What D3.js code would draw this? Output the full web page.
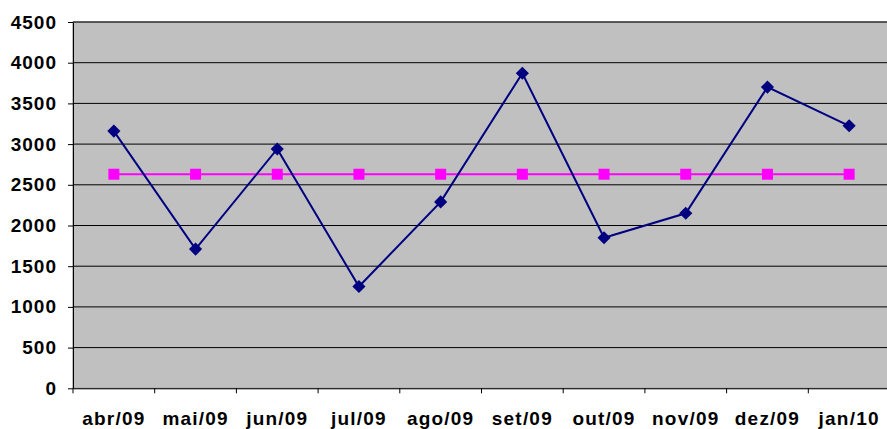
<!DOCTYPE html>
<html><head><meta charset="utf-8">
<script src="https://cdn.jsdelivr.net/npm/d3@7"></script>
<style>body{margin:0;background:#fff}svg{display:block}</style>
</head><body><svg id="c" width="887" height="429"></svg>
<script>
const categories = ["abr/09","mai/09","jun/09","jul/09","ago/09","set/09","out/09","nov/09","dez/09","jan/10"];
const seriesValues = [3160,1710,2940,1250,2290,3870,1850,2150,3700,3225];
const averageValues = [2630,2630,2630,2630,2630,2630,2630,2630,2630,2630];
const yTicks = [0,500,1000,1500,2000,2500,3000,3500,4000,4500];

const svg = d3.select("#c");
const L = 73, R = 890, T = 22, B = 388.3;
const x = d3.scaleBand().domain(categories).range([L, R]).padding(0);
const y = d3.scaleLinear().domain([0, 4500]).range([B, T]);
const font = "'Liberation Sans', Arial, sans-serif";

svg.append("rect").attr("x", L).attr("y", T).attr("width", R - L).attr("height", B - T)
  .attr("fill", "#C0C0C0").attr("stroke", "#808080").attr("stroke-width", 1);

svg.append("g").selectAll("line").data(yTicks.filter(d => d > 0)).join("line")
  .attr("x1", L).attr("x2", R).attr("y1", d => y(d)).attr("y2", d => y(d))
  .attr("stroke", "#000").attr("stroke-width", 1);

// Y axis
const yAxis = svg.append("g").attr("transform", `translate(${L},0)`)
  .call(d3.axisLeft(y).tickValues(yTicks).tickFormat(d3.format("d")).tickSize(5).tickSizeOuter(0).tickPadding(11));
yAxis.select(".domain").attr("stroke", "#000");
yAxis.selectAll(".tick line").attr("stroke", "#000");
yAxis.selectAll("text").attr("font-family", font).attr("font-weight", "bold")
  .attr("font-size", "19px").attr("letter-spacing", "1px").attr("fill", "#000");

// X axis
const xAxis = svg.append("g").attr("transform", `translate(0,${B})`)
  .call(d3.axisBottom(x).tickSize(0).tickPadding(23));
xAxis.select(".domain").attr("stroke", "#000");
xAxis.selectAll("text").attr("font-family", font).attr("font-weight", "bold")
  .attr("font-size", "19px").attr("letter-spacing", "1.2px").attr("fill", "#000");
svg.append("g").selectAll("line").data(categories).join("line")
  .attr("x1", d => x(d)).attr("x2", d => x(d)).attr("y1", B).attr("y2", B + 5)
  .attr("stroke", "#000");

const cx = d => x(d) + x.bandwidth() / 2;

// average line
svg.append("path").datum(categories.map((c, i) => [cx(c), y(averageValues[i])]))
  .attr("d", d3.line()).attr("fill", "none").attr("stroke", "#FF00FF").attr("stroke-width", 2);
svg.append("g").selectAll("rect").data(categories).join("rect")
  .attr("x", d => cx(d) - 5.5).attr("y", (d, i) => y(averageValues[i]) - 5.5)
  .attr("width", 11).attr("height", 11).attr("fill", "#FF00FF");

// main series
svg.append("path").datum(categories.map((c, i) => [cx(c), y(seriesValues[i])]))
  .attr("d", d3.line()).attr("fill", "none").attr("stroke", "#000080").attr("stroke-width", 2);
svg.append("g").selectAll("path").data(categories).join("path")
  .attr("d", d3.symbol(d3.symbolDiamond2, 110))
  .attr("transform", (d, i) => `translate(${cx(d)},${y(seriesValues[i])})`)
  .attr("fill", "#000080");
</script></body></html>
